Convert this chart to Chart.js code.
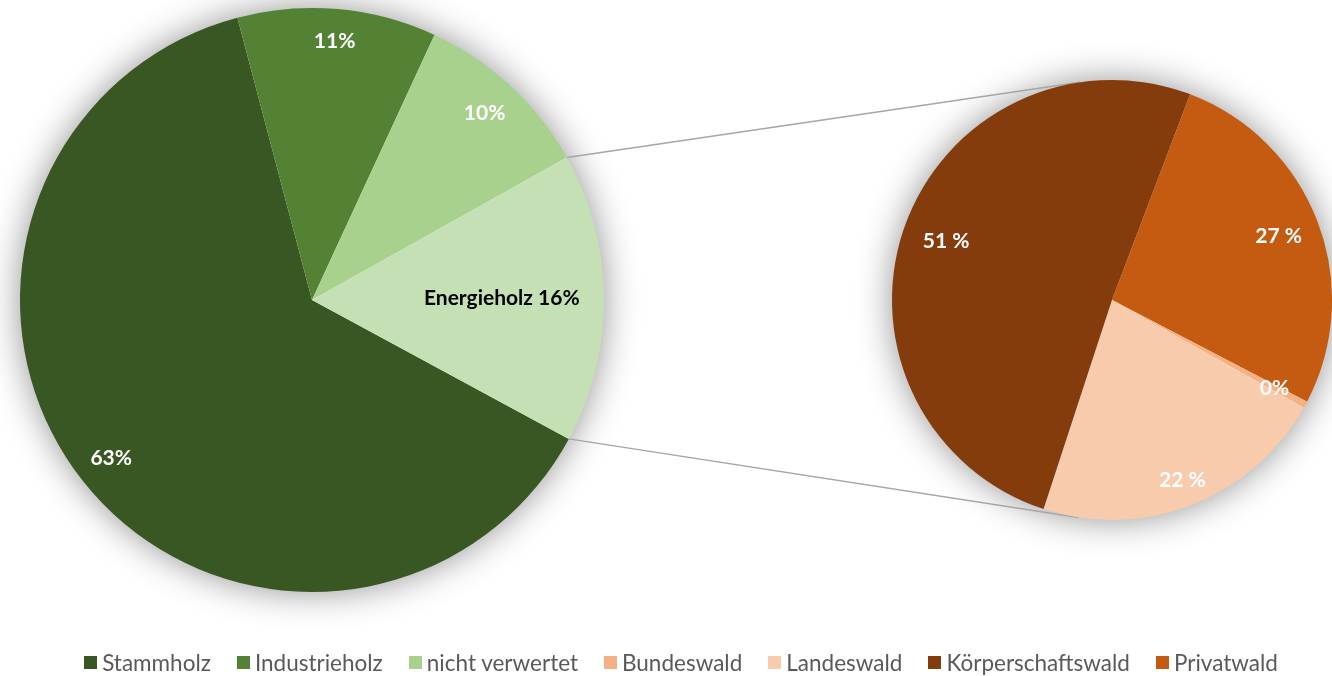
<!DOCTYPE html>
<html lang="de">
<head>
    <meta charset="UTF-8">
    <title>Holzverwendung und Waldbesitz</title>
    <style>
        html, body {
            margin: 0;
            padding: 0;
            background: #fff;
            overflow: hidden;
        }
        .wrap {
            position: relative;
            width: 1332px;
            height: 676px;
        }
        .wrap canvas {
            position: absolute;
            left: 0;
            top: 0;
        }
        #legend {
            position: absolute;
            left: 0;
            width: 1332px;
            top: 649px;
            display: flex;
            justify-content: center;
            font-family: Lato, sans-serif;
            font-size: 22.5px;
            color: #595959;
            padding-left: 30px;
            box-sizing: border-box;
        }
        #legend .item {
            display: flex;
            align-items: center;
            margin: 0 13px;
            white-space: nowrap;
        }
        #legend .box {
            width: 13px;
            height: 13px;
            margin-right: 5px;
        }
    </style>
    <script src="https://cdn.jsdelivr.net/npm/chart.js"></script>
</head>
<body>
<div class="wrap">
    <canvas id="mainPie" width="1332" height="676"></canvas>
    <canvas id="subPie" width="1332" height="676"></canvas>
    <div id="legend"></div>
</div>

<script>
    // Hauptkreis: Holzverwendung
    const mainCategories = ['Stammholz', 'Industrieholz', 'nicht verwertet', 'Energieholz'];
    const mainValues = [63, 11, 10, 16];
    const mainLabels = ['63%', '11%', '10%', 'Energieholz 16%'];
    const mainColors = ['#385723', '#548235', '#a9d18e', '#c5e0b4'];

    // Zweiter Kreis: Energieholz nach Waldbesitz
    const subCategories = ['Privatwald', 'Bundeswald', 'Landeswald', 'Körperschaftswald'];
    const subValues = [27, 0.5, 22, 51];
    const subLabels = ['27 %', '0%', '22 %', '51 %'];
    const subColors = ['#c55a11', '#f4b183', '#f8cbad', '#843c0c'];

    // Reihenfolge der Legende
    const legendOrder = ['Stammholz', 'Industrieholz', 'nicht verwertet', 'Bundeswald', 'Landeswald', 'Körperschaftswald', 'Privatwald'];

    // soft glow behind the pie
    const shadowPlugin = {
        id: 'pieShadow',
        beforeDatasetsDraw(chart) {
            const arc = chart.getDatasetMeta(0).data[0];
            if (!arc) return;
            const ctx = chart.ctx;
            ctx.save();
            ctx.shadowColor = 'rgba(0, 0, 0, 0.45)';
            ctx.shadowBlur = 36;
            ctx.fillStyle = '#fff';
            ctx.beginPath();
            ctx.arc(arc.x, arc.y, arc.outerRadius - 1, 0, Math.PI * 2);
            ctx.fill();
            ctx.restore();
        }
    };

    // labels inside the slices
    const sliceLabelPlugin = {
        id: 'sliceLabels',
        afterDatasetsDraw(chart, args, opts) {
            const ctx = chart.ctx;
            const meta = chart.getDatasetMeta(0);
            ctx.save();
            ctx.font = 'bold 21px Lato, sans-serif';
            ctx.textAlign = 'center';
            ctx.textBaseline = 'middle';
            meta.data.forEach((arc, i) => {
                const mid = (arc.startAngle + arc.endAngle) / 2;
                const r = arc.outerRadius * opts.radius[i];
                ctx.fillStyle = opts.colors[i];
                ctx.fillText(opts.texts[i], arc.x + Math.cos(mid) * r, arc.y + Math.sin(mid) * r);
            });
            ctx.restore();
        }
    };

    const mainChart = new Chart(document.getElementById('mainPie'), {
        type: 'pie',
        data: {
            labels: mainCategories,
            datasets: [{
                data: mainValues,
                backgroundColor: mainColors,
                borderWidth: 0
            }]
        },
        options: {
            responsive: false,
            animation: false,
            rotation: 118.4,
            layout: { padding: { left: 20, right: 728, top: 8, bottom: 84 } },
            plugins: {
                legend: { display: false },
                tooltip: { enabled: false },
                sliceLabels: {
                    texts: mainLabels,
                    radius: [0.875, 0.89, 0.87, 0.65],
                    colors: ['#fff', '#fff', '#fff', '#000']
                }
            }
        },
        plugins: [shadowPlugin, sliceLabelPlugin]
    });

    // connector lines from the Energieholz slice to the second pie (tangents)
    const connectorPlugin = {
        id: 'connectors',
        beforeDatasetsDraw(chart) {
            const src = mainChart.getDatasetMeta(0).data[3];
            const dst = chart.getDatasetMeta(0).data[0];
            if (!src || !dst) return;
            const ctx = chart.ctx;
            const R = dst.outerRadius;
            ctx.save();
            ctx.strokeStyle = '#a6a6a6';
            ctx.lineWidth = 1.5;
            [[src.startAngle, -1], [src.endAngle, 1]].forEach(([ang, side]) => {
                const px = src.x + Math.cos(ang) * src.outerRadius;
                const py = src.y + Math.sin(ang) * src.outerRadius;
                const dx = px - dst.x, dy = py - dst.y;
                const d = Math.hypot(dx, dy);
                const base = Math.atan2(dy, dx);
                const t = base - side * Math.acos(R / d);
                ctx.beginPath();
                ctx.moveTo(px, py);
                ctx.lineTo(dst.x + Math.cos(t) * R, dst.y + Math.sin(t) * R);
                ctx.stroke();
            });
            ctx.restore();
        }
    };

    new Chart(document.getElementById('subPie'), {
        type: 'pie',
        data: {
            labels: subCategories,
            datasets: [{
                data: subValues,
                backgroundColor: subColors,
                borderWidth: 0
            }]
        },
        options: {
            responsive: false,
            animation: false,
            rotation: 20.8,
            layout: { padding: { left: 892, right: 0, top: 80, bottom: 156 } },
            plugins: {
                legend: { display: false },
                tooltip: { enabled: false },
                sliceLabels: {
                    texts: subLabels,
                    radius: [0.81, 0.84, 0.88, 0.8],
                    colors: ['#fff', '#fff', '#fff', '#fff']
                }
            }
        },
        plugins: [shadowPlugin, connectorPlugin, sliceLabelPlugin]
    });

    // legend from both pies
    const legendEl = document.getElementById('legend');
    legendOrder.forEach(name => {
        let color;
        const mi = mainCategories.indexOf(name);
        if (mi >= 0) color = mainColors[mi];
        else color = subColors[subCategories.indexOf(name)];
        const item = document.createElement('div');
        item.className = 'item';
        const box = document.createElement('span');
        box.className = 'box';
        box.style.background = color;
        const label = document.createElement('span');
        label.textContent = name;
        item.appendChild(box);
        item.appendChild(label);
        legendEl.appendChild(item);
    });
</script>
</body>
</html>
